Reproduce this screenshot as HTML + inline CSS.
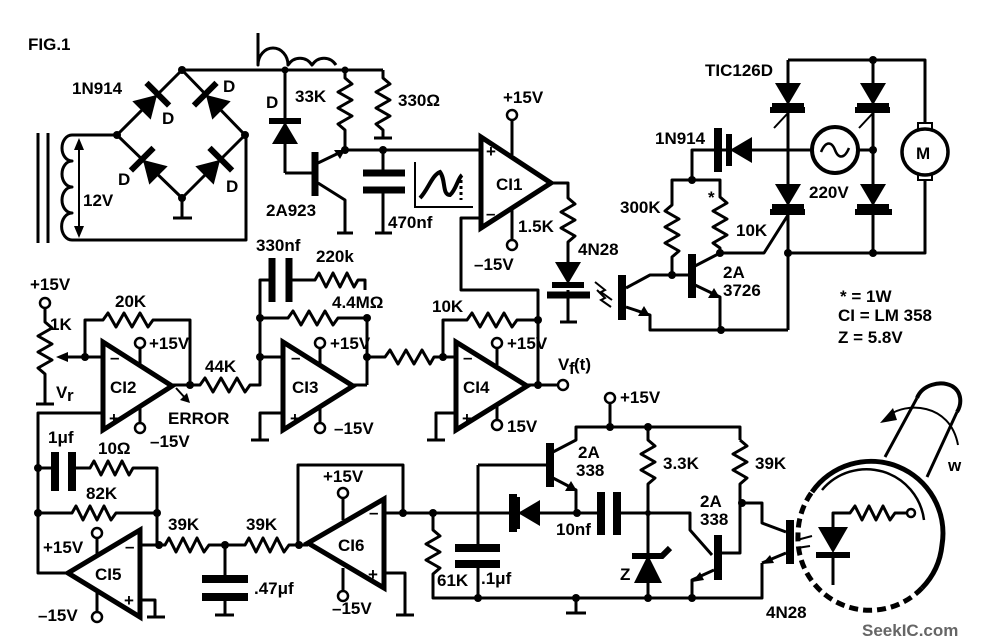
<!DOCTYPE html>
<html><head><meta charset="utf-8"><style>
html,body{margin:0;padding:0;background:#fff}
svg{display:block}
text{font-family:"Liberation Sans",sans-serif;font-weight:bold;font-size:17px;fill:#000}
.w{stroke:#000;stroke-width:3;fill:none;stroke-linejoin:round}
.t{stroke:#000;stroke-width:2;fill:none}
.oa{stroke:#000;stroke-width:5;fill:#fff;stroke-linejoin:miter}
.dot{fill:#000}
.oc{stroke:#000;stroke-width:2.5;fill:#fff}
</style></head><body>
<svg width="986" height="644" viewBox="0 0 986 644" xmlns="http://www.w3.org/2000/svg">
<defs>
<g id="d"><polygon points="-12,-13 -12,13 10,0" fill="#000"/><line x1="11" y1="-16" x2="11" y2="16" stroke="#000" stroke-width="6"/></g>
</defs>
<text x="28" y="50" font-size="15">FIG.1</text>

<line class="w" x1="38" y1="133" x2="38" y2="243"/><line class="w" x1="48" y1="133" x2="48" y2="243"/>
<path class="w" d="M117,135 H72 A10,13 0 0,0 72,161 A10,13 0 0,0 72,187 A10,13 0 0,0 72,213 A10,13 0 0,0 72,240 H246 V135"/>
<line class="t" x1="79" y1="142" x2="79" y2="234"/><polygon points="79,138 74,150 84,150"/><polygon points="79,238 74,226 84,226"/>
<text x="83" y="206">12V</text>
<path class="w" d="M117,135 L182,70 L245,135 L182,198 Z"/>
<line class="w" x1="182" y1="198" x2="182" y2="218"/><line class="w" x1="173" y1="218" x2="192" y2="218"/>
<use href="#d" transform="translate(150,102) rotate(-45)"/>
<use href="#d" transform="translate(213,102) rotate(-135)"/>
<use href="#d" transform="translate(150,167) rotate(-135)"/>
<use href="#d" transform="translate(213,167) rotate(-45)"/>
<circle class="dot" cx="182" cy="70" r="4"/><circle class="dot" cx="117" cy="135" r="4"/><circle class="dot" cx="245" cy="135" r="4"/><circle class="dot" cx="182" cy="198" r="4"/>
<text x="72" y="94">1N914</text><text x="162" y="124">D</text><text x="223" y="92">D</text><text x="118" y="185">D</text><text x="226" y="192">D</text>

<line class="w" x1="182" y1="70" x2="383" y2="70"/>
<path class="w" d="M258,33 V65 A15,17 0 0,1 288,65 A15,17 0 0,1 312,65 A15,17 0 0,1 336,65"/>
<circle class="dot" cx="285" cy="70" r="3.5"/><circle class="dot" cx="345" cy="70" r="3.5"/>
<line class="w" x1="285" y1="70" x2="285" y2="173"/>
<use href="#d" transform="translate(285,132) rotate(-90)"/>
<text x="266" y="108">D</text><text x="295" y="102">33K</text>
<line class="w" x1="285" y1="173" x2="312" y2="173"/>
<line x1="315" y1="152" x2="315" y2="196" stroke="#000" stroke-width="7"/>
<path class="w" d="M318,163 L345,150 M318,183 L345,200 V233 M337,233 H353"/>
<polygon points="345,150 334,150 340,159"/>
<text x="266" y="216">2A923</text>
<path class="w" d="M345,70 V78 L352,84 L338,92 L352,100 L338,108 L352,116 L338,124 L345,130 V150"/>
<path class="w" d="M383,70 V78 L390,84 L376,92 L390,100 L376,108 L390,116 L376,124 L383,130 V138 M374,138 H392"/>
<text x="398" y="106">330Ω</text>
<line class="w" x1="345" y1="150" x2="480" y2="150"/>
<circle class="dot" cx="345" cy="150" r="4"/><circle class="dot" cx="383" cy="150" r="4"/>
<path class="w" d="M383,150 V172 M383,192 V233 M375,233 H392"/>
<line x1="363" y1="173" x2="405" y2="173" stroke="#000" stroke-width="7"/><line x1="363" y1="190" x2="405" y2="190" stroke="#000" stroke-width="7"/>
<text x="388" y="228">470nf</text>
<path class="t" d="M415,162 V207 H473"/>
<path d="M420,198 C428,190 432,175 440,172 C446,180 442,195 450,195 C456,190 458,178 462,175" stroke="#000" stroke-width="4" fill="none"/>
<line x1="461" y1="180" x2="461" y2="200" stroke="#000" stroke-width="3" stroke-dasharray="3,3"/>

<line class="w" x1="512" y1="121" x2="512" y2="155"/><circle class="oc" cx="512" cy="115" r="5"/>
<line class="w" x1="512" y1="205" x2="512" y2="240"/><circle class="oc" cx="512" cy="245" r="5"/>
<polygon class="oa" points="481,137 481,228 551,183"/>
<text x="486" y="157" font-size="13">+</text><text x="486" y="219" font-size="13">–</text>
<text x="496" y="190">CI1</text>
<text x="503" y="103">+15V</text><text x="474" y="270">–15V</text>
<path class="w" d="M481,218 H461 V290 H538 V318"/>
<path class="w" d="M551,183 H568 V198 L575,204 L561,212 L575,220 L561,228 L575,236 L568,242 V262 M568,290 V322 M560,322 H577"/>
<use href="#d" transform="translate(568,274) rotate(90)"/>
<line x1="547" y1="295" x2="590" y2="295" stroke="#000" stroke-width="7"/>
<text x="518" y="232">1.5K</text><text x="578" y="255">4N28</text>
<path class="t" d="M595,282 L605,290 L601,292 L612,300"/><path class="t" d="M597,290 L605,298 L601,300 L611,307"/>

<line x1="622" y1="275" x2="622" y2="320" stroke="#000" stroke-width="8"/>
<path class="w" d="M626,288 L650,275 H672 M626,307 L650,315 V330 H788"/>
<polygon points="650,316 638,316 644,306"/>
<line x1="692" y1="254" x2="692" y2="298" stroke="#000" stroke-width="8"/>
<path class="w" d="M672,275 H692 M695,266 L720,253 M695,285 L720,297 V330"/>
<polygon points="720,298 708,298 714,288"/>
<circle class="dot" cx="672" cy="275" r="4"/><circle class="dot" cx="720" cy="253" r="4"/><circle class="dot" cx="721" cy="330" r="4"/>
<text x="723" y="278">2A</text><text x="723" y="296">3726</text>
<path class="w" d="M672,275 V257 L679,251 L665,243 L679,235 L665,227 L679,219 L665,211 L672,205 V180 H720 V197 L727,203 L713,211 L727,219 L713,227 L727,235 L713,243 L720,248 V253"/>
<circle class="dot" cx="692" cy="180" r="4"/>
<text x="620" y="213">300K</text><text x="708" y="203">*</text><text x="736" y="236">10K</text>
<path class="w" d="M692,180 V150 H788"/>
<use href="#d" transform="translate(740,150) rotate(180)"/>
<line x1="718" y1="128" x2="718" y2="172" stroke="#000" stroke-width="8"/>
<text x="655" y="144">1N914</text>
<path class="w" d="M720,253 H764 L788,215"/>
<path class="w" d="M788,60 H925 V125 M925,180 V253 H788 V330 M788,60 V253 M873,60 V253"/>
<circle class="dot" cx="873" cy="60" r="4"/><circle class="dot" cx="788" cy="253" r="4"/><circle class="dot" cx="873" cy="253" r="4"/><circle class="dot" cx="873" cy="150" r="4"/>
<use href="#d" transform="translate(788,95) rotate(90)"/><use href="#d" transform="translate(873,95) rotate(90)"/>
<use href="#d" transform="translate(788,196) rotate(90)"/><use href="#d" transform="translate(873,196) rotate(90)"/>
<line x1="770" y1="110" x2="805" y2="110" stroke="#000" stroke-width="6"/><line x1="855" y1="110" x2="890" y2="110" stroke="#000" stroke-width="6"/>
<line x1="770" y1="212" x2="805" y2="212" stroke="#000" stroke-width="6"/><line x1="855" y1="212" x2="892" y2="212" stroke="#000" stroke-width="6"/>
<path class="t" d="M774,128 L788,113 M859,128 L873,113"/>
<text x="705" y="76">TIC126D</text>
<path class="w" d="M788,150 H813 M857,150 H873"/>
<circle cx="835" cy="150" r="23" stroke="#000" stroke-width="4" fill="#fff"/>
<path d="M821,152 C826,140 832,142 835,150 C838,158 844,160 849,148" stroke="#000" stroke-width="2.5" fill="none"/>
<text x="809" y="198">220V</text>
<rect x="918" y="123" width="14" height="8" fill="#fff" stroke="#000" stroke-width="2"/>
<rect x="918" y="172" width="14" height="8" fill="#fff" stroke="#000" stroke-width="2"/>
<circle cx="925" cy="152" r="23" stroke="#000" stroke-width="3.5" fill="#fff"/>
<text x="916" y="159">M</text>
<text x="840" y="302">* = 1W</text><text x="838" y="321">CI = LM 358</text><text x="838" y="343">Z = 5.8V</text>

<text x="30" y="290">+15V</text><circle class="oc" cx="45" cy="303" r="5"/>
<path class="w" d="M45,308 V322 L52,328 L38,336 L52,344 L38,352 L52,360 L38,368 L45,374 V404 M36,404 H54"/>
<path class="w" d="M68,357 H102"/><polygon points="56,357 68,352 68,362"/>
<text x="50" y="330">1K</text><text x="56" y="398">V</text><text x="67" y="401" font-size="11">r</text>
<circle class="dot" cx="85" cy="357" r="4"/>
<path class="w" d="M85,357 V320 H103 L108,313 L116,327 L124,313 L132,327 L140,313 L148,327 L153,320 H190 V385"/>
<text x="115" y="307">20K</text>
<line class="w" x1="140" y1="348" x2="140" y2="365"/><circle class="oc" cx="140" cy="343" r="5"/>
<line class="w" x1="140" y1="405" x2="140" y2="423"/><circle class="oc" cx="140" cy="428" r="5"/>
<text x="149" y="349">+15V</text><text x="150" y="447">–15V</text>
<polygon class="oa" points="103,342 103,430 172,386"/>
<text x="110" y="363" font-size="13">–</text><text x="109" y="424" font-size="13">+</text>
<text x="110" y="393">CI2</text>
<path class="w" d="M172,385 H200 L205,378 L213,392 L221,378 L229,392 L237,378 L245,392 L250,385 H260 V357 H282"/>
<circle class="dot" cx="190" cy="385" r="4"/>
<path class="t" d="M176,388 L187,400"/><polygon points="190,403 180,400 187,393"/>
<text x="168" y="424">ERROR</text><text x="205" y="372">44K</text>
<path class="w" d="M103,413 H38 V573 H68"/>
<circle class="dot" cx="260" cy="357" r="4"/><circle class="dot" cx="260" cy="318" r="4"/><circle class="dot" cx="367" cy="318" r="4"/>
<path class="w" d="M260,357 V280 H272 M290,280 H315 L319,273 L326,287 L333,273 L340,287 L347,273 L354,287 L358,280 H365 V290"/>
<line x1="272" y1="258" x2="272" y2="302" stroke="#000" stroke-width="7"/><line x1="289" y1="258" x2="289" y2="302" stroke="#000" stroke-width="7"/>
<text x="256" y="251">330nf</text><text x="316" y="262">220k</text>
<path class="w" d="M260,318 H288 L293,311 L301,325 L309,311 L317,325 L325,311 L333,325 L338,318 H367 V385"/>
<text x="332" y="308">4.4MΩ</text>
<line class="w" x1="320" y1="348" x2="320" y2="365"/><circle class="oc" cx="320" cy="343" r="5"/>
<line class="w" x1="320" y1="405" x2="320" y2="423"/><circle class="oc" cx="320" cy="428" r="5"/>
<text x="330" y="349">+15V</text><text x="334" y="434">–15V</text>
<polygon class="oa" points="283,342 283,430 353,386"/>
<text x="291" y="363" font-size="13">–</text><text x="290" y="424" font-size="13">+</text>
<text x="292" y="393">CI3</text>
<path class="w" d="M283,413 H260 V440 M251,440 H269 M353,385 H367"/>
<circle class="dot" cx="367" cy="357" r="4"/>
<path class="w" d="M367,357 H385 L390,350 L398,364 L406,350 L414,364 L422,350 L430,364 L434,357 H455"/>
<circle class="dot" cx="443" cy="357" r="4"/>
<path class="w" d="M443,357 V320 H467 L472,313 L480,327 L488,313 L496,327 L504,313 L512,327 L517,320 H538 V385"/>
<circle class="dot" cx="538" cy="320" r="4"/>
<text x="432" y="312">10K</text>
<line class="w" x1="497" y1="348" x2="497" y2="365"/><circle class="oc" cx="497" cy="343" r="5"/>
<line class="w" x1="497" y1="405" x2="497" y2="420"/><circle class="oc" cx="497" cy="425" r="5"/>
<text x="507" y="349">+15V</text><text x="507" y="432">15V</text>
<polygon class="oa" points="456,342 456,430 527,386"/>
<text x="463" y="363" font-size="13">–</text><text x="462" y="424" font-size="13">+</text>
<text x="463" y="393">CI4</text>
<path class="w" d="M456,413 H436 V440 M427,440 H445 M527,385 H558"/>
<circle class="dot" cx="538" cy="385" r="4"/><circle class="oc" cx="563" cy="385" r="5"/>
<text x="558" y="370">V</text><text x="569" y="374" font-size="11">f</text><text x="574" y="370">(t)</text>

<circle class="dot" cx="38" cy="468" r="4"/><circle class="dot" cx="38" cy="513" r="4"/>
<path class="w" d="M38,468 H55 M72,468 H90 L94,461 L101,475 L108,461 L115,475 L122,461 L129,475 L133,468 H157 V545"/>
<line x1="55" y1="452" x2="55" y2="491" stroke="#000" stroke-width="8"/><line x1="72" y1="452" x2="72" y2="491" stroke="#000" stroke-width="8"/>
<text x="48" y="443">1μf</text><text x="98" y="454">10Ω</text>
<path class="w" d="M38,513 H72 L76,506 L83,520 L90,506 L97,520 L104,506 L111,520 L116,513 H157"/>
<circle class="dot" cx="157" cy="513" r="4"/><text x="86" y="499">82K</text>
<circle class="dot" cx="159" cy="545" r="4"/>
<polygon class="oa" points="140,530 140,617 68,573"/>
<text x="125" y="552" font-size="13">–</text><text x="124" y="606" font-size="13">+</text>
<text x="95" y="580">CI5</text>
<line class="w" x1="97" y1="538" x2="97" y2="556"/><circle class="oc" cx="97" cy="533" r="5"/>
<line class="w" x1="97" y1="592" x2="97" y2="612"/><circle class="oc" cx="97" cy="617" r="5"/>
<text x="43" y="553">+15V</text><text x="38" y="621">–15V</text>
<path class="w" d="M140,600 H155 V617 M147,617 H165"/>
<path class="w" d="M140,545 H165 L169,538 L176,552 L183,538 L190,552 L197,538 L204,552 L209,545 H245 L249,538 L256,552 L263,538 L270,552 L277,538 L284,552 L289,545 H308"/>
<text x="168" y="530">39K</text><text x="246" y="530">39K</text>
<circle class="dot" cx="225" cy="545" r="4"/><circle class="dot" cx="299" cy="545" r="4"/>
<path class="w" d="M225,545 V578 M225,598 V615 M215,615 H234"/>
<line x1="202" y1="579" x2="248" y2="579" stroke="#000" stroke-width="8"/><line x1="202" y1="597" x2="248" y2="597" stroke="#000" stroke-width="8"/>
<text x="254" y="594">.47μf</text>
<path class="w" d="M298,545 V465 H403 V513"/>
<polygon class="oa" points="384,499 384,588 308,543"/>
<text x="369" y="518" font-size="13">–</text><text x="368" y="580" font-size="13">+</text>
<text x="338" y="551">CI6</text>
<line class="w" x1="343" y1="498" x2="343" y2="520"/><circle class="oc" cx="343" cy="493" r="5"/>
<line class="w" x1="343" y1="568" x2="343" y2="591"/><circle class="oc" cx="343" cy="596" r="5"/>
<text x="323" y="482">+15V</text><text x="332" y="614">–15V</text>
<path class="w" d="M384,573 H405 V615 M396,615 H414"/>
<path class="w" d="M384,513 H578"/>
<circle class="dot" cx="403" cy="513" r="4"/><circle class="dot" cx="433" cy="513" r="4"/>
<path class="w" d="M433,513 V530 L440,536 L426,544 L440,552 L426,560 L440,568 L433,574 V598 H762 V563"/>
<text x="437" y="586">61K</text>
<path class="w" d="M478,465 V547 M478,563 V598"/>
<line x1="455" y1="548" x2="500" y2="548" stroke="#000" stroke-width="8"/><line x1="455" y1="564" x2="500" y2="564" stroke="#000" stroke-width="8"/>
<text x="481" y="584">.1μf</text>
<circle class="dot" cx="478" cy="598" r="4"/>
<path class="w" d="M576,598 V613 M566,613 H586"/><circle class="dot" cx="576" cy="598" r="4"/>
<path class="w" d="M478,465 H549"/>
<line x1="550" y1="443" x2="550" y2="487" stroke="#000" stroke-width="8"/>
<path class="w" d="M553,452 L576,440 V427 H740 V440 M553,478 L576,490 V513"/>
<polygon points="577,491 565,491 571,481"/>
<text x="578" y="458">2A</text><text x="576" y="476">338</text>
<circle class="dot" cx="610" cy="427" r="4"/><circle class="dot" cx="648" cy="427" r="4"/>
<path class="w" d="M610,427 V403"/><circle class="oc" cx="610" cy="398" r="5"/><text x="620" y="403">+15V</text>
<use href="#d" transform="translate(528,513) rotate(180)"/>
<line x1="513" y1="494" x2="513" y2="532" stroke="#000" stroke-width="8"/>
<circle class="dot" cx="577" cy="513" r="4"/>
<path class="w" d="M578,513 H600 M617,513 H690 V530 L712,555"/>
<line x1="601" y1="492" x2="601" y2="535" stroke="#000" stroke-width="8"/><line x1="617" y1="492" x2="617" y2="535" stroke="#000" stroke-width="8"/>
<text x="556" y="535">10nf</text>
<path class="w" d="M648,427 V440 L655,446 L641,454 L655,462 L641,470 L655,478 L648,484 V598"/>
<text x="663" y="469">3.3K</text>
<polygon points="648,555 634,583 662,583" fill="#000"/><path d="M632,556 H662 L670,548" stroke="#000" stroke-width="6" fill="none"/>
<text x="620" y="580">Z</text>
<circle class="dot" cx="648" cy="598" r="4"/><circle class="dot" cx="692" cy="598" r="4"/><circle class="dot" cx="648" cy="513" r="3"/>
<path class="w" d="M740,440 L747,446 L733,454 L747,462 L733,470 L747,478 L740,484 V553 H722"/>
<text x="755" y="469">39K</text>
<line x1="718" y1="535" x2="718" y2="580" stroke="#000" stroke-width="8"/>
<path class="w" d="M714,570 L692,580 V598"/><polygon points="692,582 700,572 704,580"/>
<text x="700" y="507">2A</text><text x="700" y="525">338</text>
<circle class="dot" cx="742" cy="503" r="4"/>
<path class="w" d="M742,503 H762 V523 L786,532 M786,553 L762,563"/>
<polygon points="762,564 770,555 774,563"/>
<line x1="790" y1="520" x2="790" y2="564" stroke="#000" stroke-width="8"/>
<text x="766" y="618">4N28</text>
<path d="M812,492 A72,72 0 0,1 942,545 A72,72 0 0,1 922,588" stroke="#000" stroke-width="5" fill="none"/>
<path d="M822,490 A58,58 0 0,1 924,520" stroke="#000" stroke-width="2.5" fill="none"/>
<path d="M922,588 A72,72 0 0,1 798,535 A72,72 0 0,1 812,492" stroke="#000" stroke-width="5" fill="none" stroke-dasharray="9,5"/>
<path class="w" d="M885,457 L917,398 M927,477 L957,412"/>
<path d="M917,398 C922,385 940,380 952,386 C962,392 962,404 957,412" stroke="#000" stroke-width="4" fill="none"/>
<path class="t" d="M888,416 C905,402 950,402 958,445"/><polygon points="880,423 893,408 897,420"/>
<text x="948" y="471">w</text>
<path class="w" d="M833,527 V513 H850 L855,506 L862,520 L869,506 L876,520 L883,506 L890,520 L895,513 H907"/><circle class="oc" cx="911" cy="513" r="4"/>
<polygon points="818,527 848,527 833,553" fill="#000"/>
<line x1="816" y1="555" x2="850" y2="555" stroke="#000" stroke-width="6"/>
<line class="w" x1="833" y1="555" x2="833" y2="585"/>
<path class="t" d="M812,536 L797,540 M810,546 L797,548"/>
<text x="862" y="636" font-size="17" style="fill:#666">SeekIC.com</text>
</svg>
</body></html>
